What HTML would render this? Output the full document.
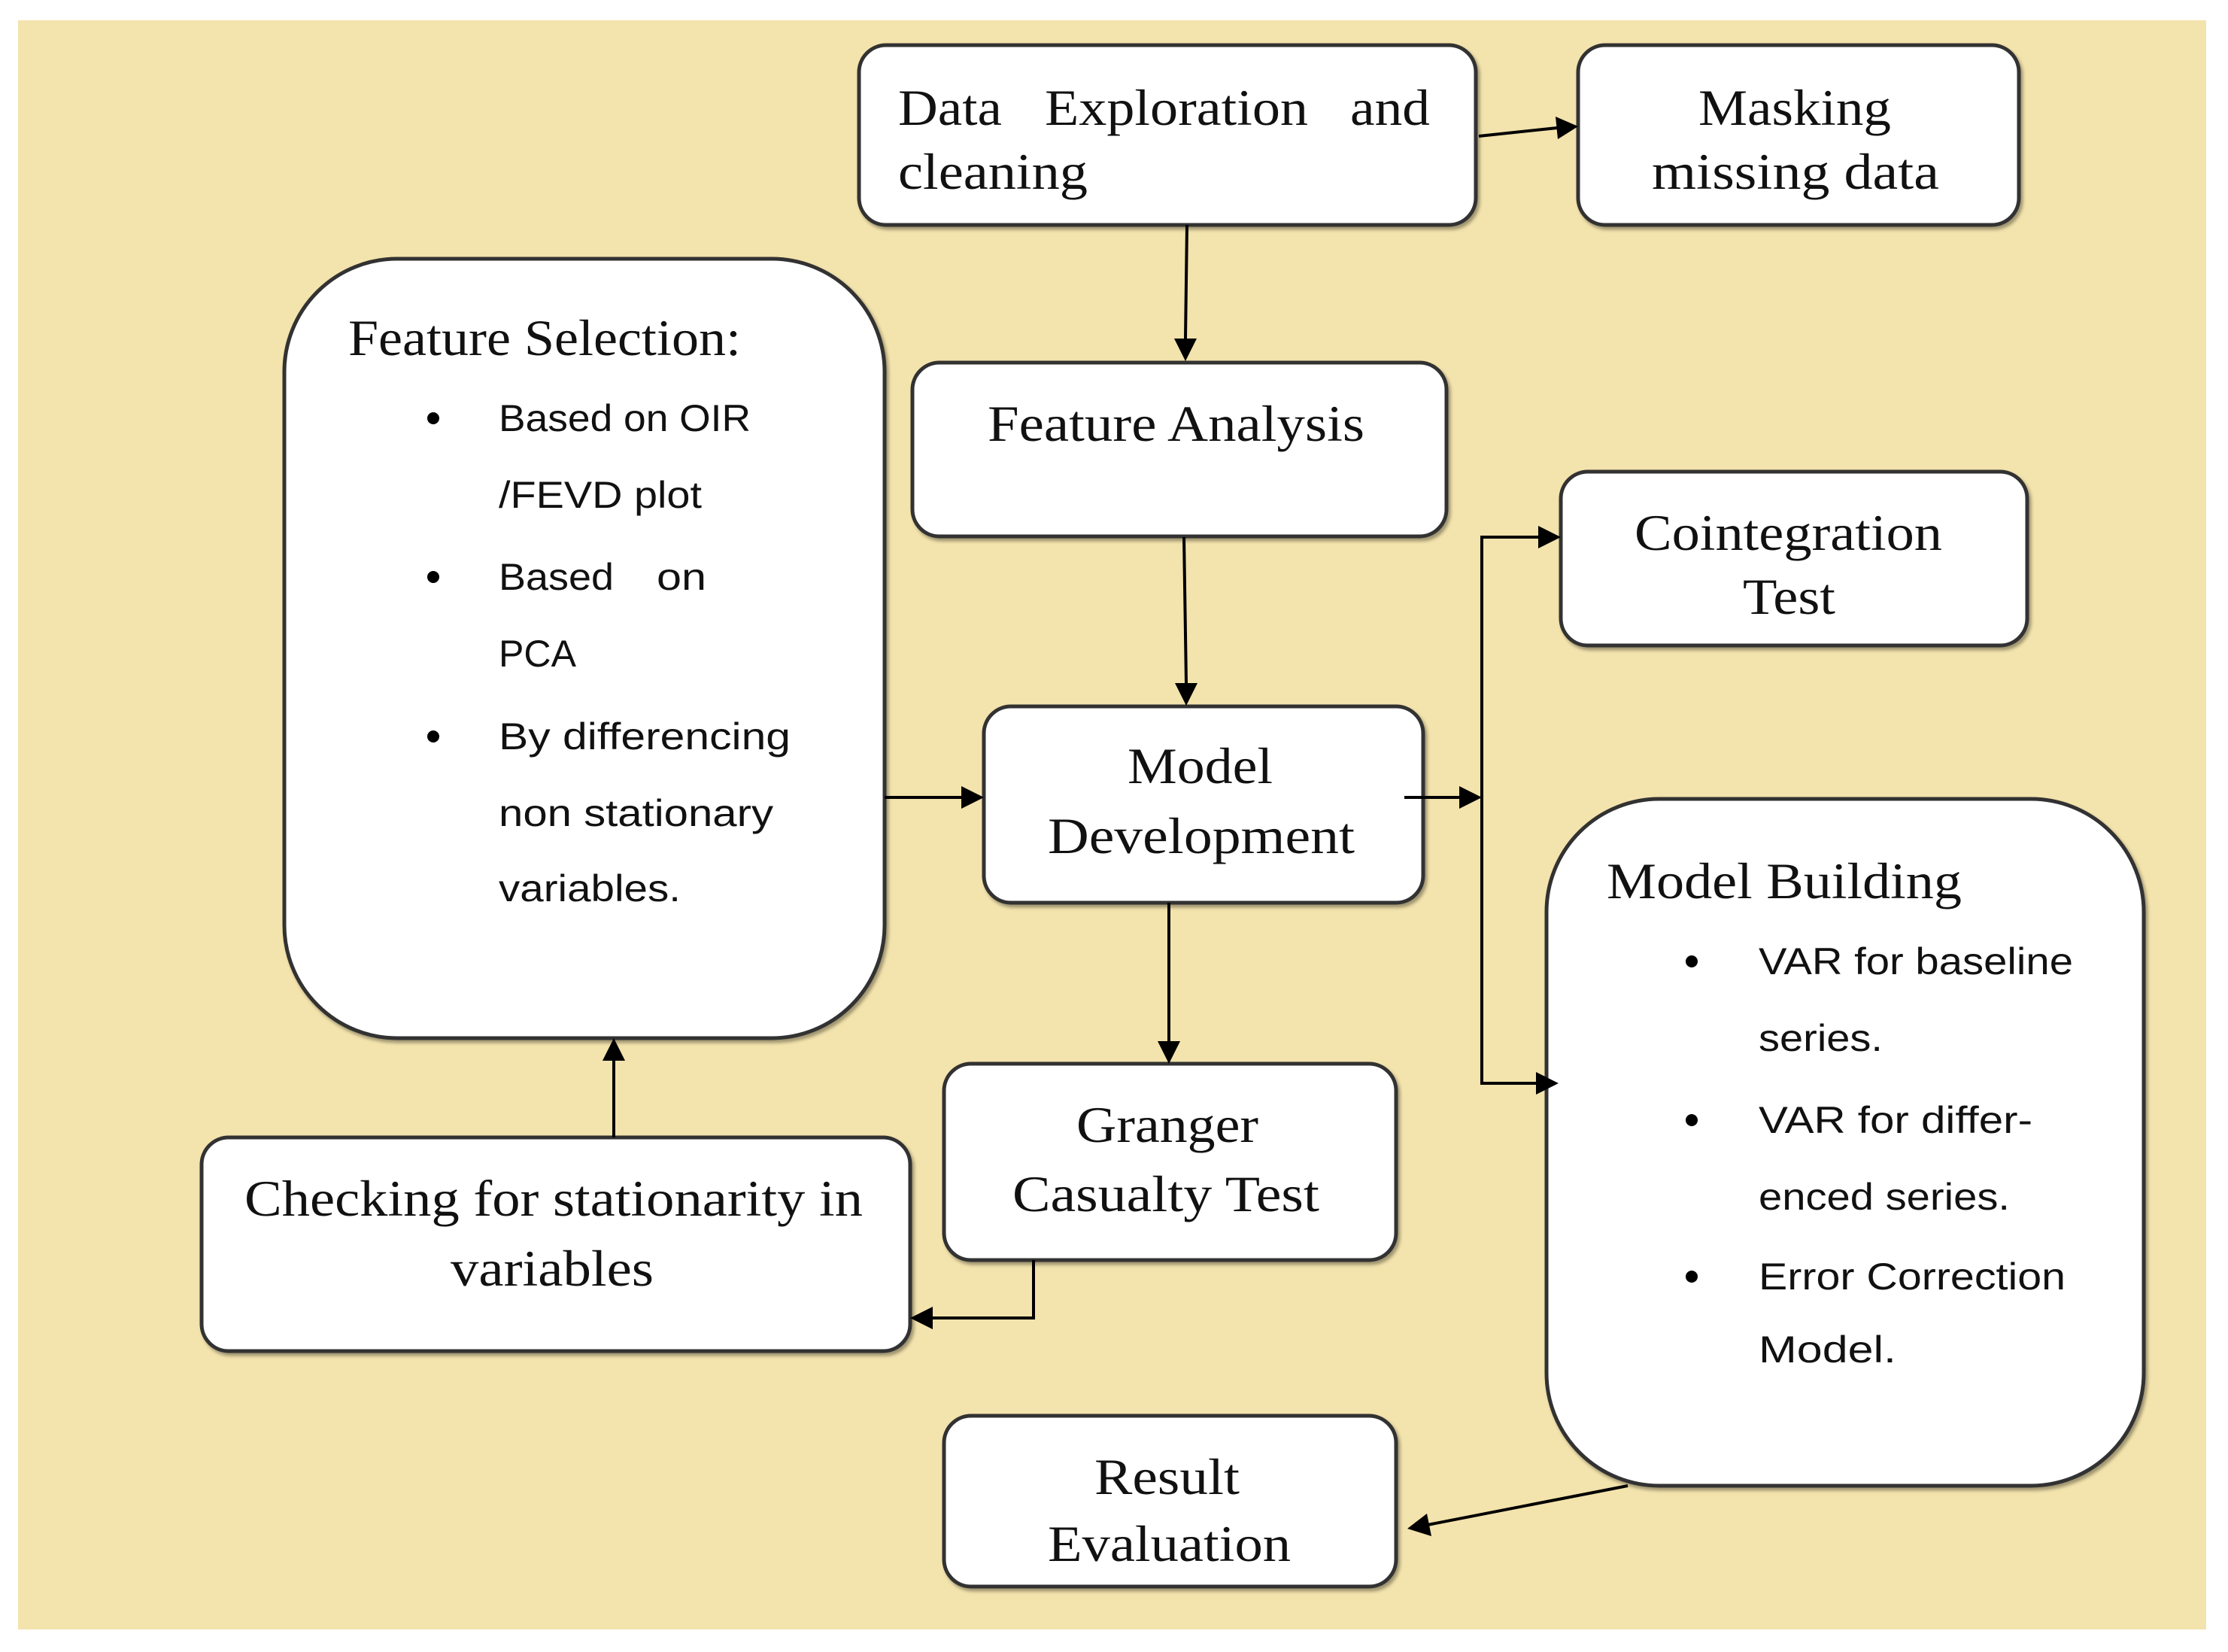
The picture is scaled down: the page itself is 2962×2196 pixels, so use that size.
<!DOCTYPE html>
<html><head><meta charset="utf-8"><style>
html,body{margin:0;padding:0;background:#fff;}
svg{display:block;}
.s{font-family:"Liberation Serif",serif;font-size:68px;fill:#111;}
.b{font-family:"Liberation Sans",sans-serif;font-size:50px;fill:#111;}
</style></head><body>
<svg width="2962" height="2196" viewBox="0 0 2962 2196" xmlns="http://www.w3.org/2000/svg">
<defs>
<filter id="sh" x="-5%" y="-5%" width="110%" height="110%"><feDropShadow dx="3" dy="4" stdDeviation="2" flood-color="#000" flood-opacity="0.35"/></filter>
</defs>
<rect x="24" y="27" width="2909" height="2139" fill="#f3e3ac"/>
<g fill="#fff" stroke="#333" stroke-width="5" filter="url(#sh)">
<rect x="1142" y="60" width="820" height="239" rx="36"/>
<rect x="2098" y="60" width="586" height="239" rx="36"/>
<rect x="378" y="344" width="798" height="1036" rx="150"/>
<rect x="1213" y="482" width="710" height="231" rx="36"/>
<rect x="2075" y="627" width="620" height="231" rx="36"/>
<rect x="1308" y="939" width="584" height="261" rx="36"/>
<rect x="2056" y="1062" width="794" height="913" rx="150"/>
<rect x="1255" y="1414" width="601" height="261" rx="36"/>
<rect x="268" y="1512" width="942" height="284" rx="36"/>
<rect x="1255" y="1882" width="601" height="227" rx="36"/>
</g>
<g stroke="#000" stroke-width="4" fill="none">
<line x1="1966" y1="181" x2="2070" y2="170"/>
<line x1="1578" y1="299" x2="1576" y2="450"/>
<line x1="1574" y1="714" x2="1577" y2="908"/>
<line x1="1176" y1="1060" x2="1280" y2="1060"/>
<line x1="1867" y1="1060" x2="1942" y2="1060"/>
<polyline points="2045,714 1970,714 1970,1440 2043,1440"/>
<line x1="1554" y1="1200" x2="1554" y2="1386"/>
<polyline points="1374,1675 1374,1752 1238,1752"/>
<line x1="816" y1="1512" x2="816" y2="1408"/>
<line x1="2164" y1="1975" x2="1898" y2="2027"/>
</g>
<g fill="#000">
<polygon points="2098,168 2068,155 2071,185"/>
<polygon points="1576,480 1561,450 1591,450"/>
<polygon points="1577,938 1562,908 1592,908"/>
<polygon points="1308,1060 1278,1045 1278,1075"/>
<polygon points="1970,1060 1940,1045 1940,1075"/>
<polygon points="2075,714 2045,699 2045,729"/>
<polygon points="2072,1440 2042,1425 2042,1455"/>
<polygon points="1554,1414 1539,1384 1569,1384"/>
<polygon points="1210,1752 1240,1737 1240,1767"/>
<polygon points="816,1380 801,1410 831,1410"/>
<polygon points="1871,2032 1897,2012 1903,2042"/>
</g>
<g class="s">
<text x="1194" y="166" textLength="138" lengthAdjust="spacingAndGlyphs">Data</text>
<text x="1389" y="166" textLength="350" lengthAdjust="spacingAndGlyphs">Exploration</text>
<text x="1795" y="166" textLength="106" lengthAdjust="spacingAndGlyphs">and</text>
<text x="1194" y="251" textLength="252" lengthAdjust="spacingAndGlyphs">cleaning</text>
<text x="2258" y="166" textLength="256" lengthAdjust="spacingAndGlyphs">Masking</text>
<text x="2196" y="251" textLength="382" lengthAdjust="spacingAndGlyphs">missing data</text>
<text x="463" y="472" textLength="522" lengthAdjust="spacingAndGlyphs">Feature Selection:</text>
<text x="1313" y="586" textLength="501" lengthAdjust="spacingAndGlyphs">Feature Analysis</text>
<text x="2173" y="731" textLength="409" lengthAdjust="spacingAndGlyphs">Cointegration</text>
<text x="2317" y="816" textLength="123" lengthAdjust="spacingAndGlyphs">Test</text>
<text x="1499" y="1041" textLength="193" lengthAdjust="spacingAndGlyphs">Model</text>
<text x="1393" y="1134" textLength="408" lengthAdjust="spacingAndGlyphs">Development</text>
<text x="2136" y="1194" textLength="472" lengthAdjust="spacingAndGlyphs">Model Building</text>
<text x="1431" y="1518" textLength="242" lengthAdjust="spacingAndGlyphs">Granger</text>
<text x="1346" y="1610" textLength="408" lengthAdjust="spacingAndGlyphs">Casualty Test</text>
<text x="325" y="1616" textLength="822" lengthAdjust="spacingAndGlyphs">Checking for stationarity in</text>
<text x="599" y="1709" textLength="270" lengthAdjust="spacingAndGlyphs">variables</text>
<text x="1455" y="1986" textLength="193" lengthAdjust="spacingAndGlyphs">Result</text>
<text x="1393" y="2075" textLength="323" lengthAdjust="spacingAndGlyphs">Evaluation</text>
</g>
<g fill="#000">
<circle cx="576" cy="556" r="8"/><circle cx="576" cy="767" r="8"/><circle cx="576" cy="979" r="8"/>
<circle cx="2249" cy="1278" r="8"/><circle cx="2249" cy="1489" r="8"/><circle cx="2249" cy="1697" r="8"/>
</g>
<g class="b">
<text x="663" y="573" textLength="335" lengthAdjust="spacingAndGlyphs">Based on OIR</text>
<text x="663" y="675" textLength="270" lengthAdjust="spacingAndGlyphs">/FEVD plot</text>
<text x="663" y="784" textLength="153" lengthAdjust="spacingAndGlyphs">Based</text>
<text x="873" y="784" textLength="66" lengthAdjust="spacingAndGlyphs">on</text>
<text x="663" y="886" textLength="103" lengthAdjust="spacingAndGlyphs">PCA</text>
<text x="663" y="996" textLength="388" lengthAdjust="spacingAndGlyphs">By differencing</text>
<text x="663" y="1098" textLength="365" lengthAdjust="spacingAndGlyphs">non stationary</text>
<text x="663" y="1198" textLength="242" lengthAdjust="spacingAndGlyphs">variables.</text>
<text x="2338" y="1295" textLength="418" lengthAdjust="spacingAndGlyphs">VAR for baseline</text>
<text x="2338" y="1397" textLength="165" lengthAdjust="spacingAndGlyphs">series.</text>
<text x="2338" y="1506" textLength="364" lengthAdjust="spacingAndGlyphs">VAR for differ-</text>
<text x="2338" y="1608" textLength="334" lengthAdjust="spacingAndGlyphs">enced series.</text>
<text x="2338" y="1714" textLength="408" lengthAdjust="spacingAndGlyphs">Error Correction</text>
<text x="2338" y="1811" textLength="183" lengthAdjust="spacingAndGlyphs">Model.</text>
</g>
</svg>
</body></html>
